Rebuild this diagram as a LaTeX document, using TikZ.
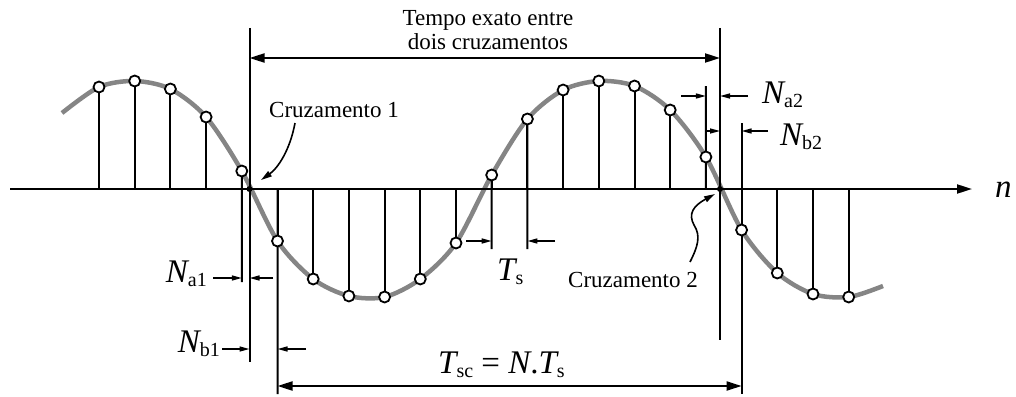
\documentclass[tikz,border=0pt]{standalone}
\usepackage{fontspec}
\setmainfont{Liberation Serif}
\usetikzlibrary{arrows.meta}
\definecolor{wavegray}{HTML}{858585}
\newcommand{\bigsym}[1]{{\fontsize{33}{33}\selectfont\itshape #1}}
\newcommand{\smallsub}[1]{\raisebox{-4pt}{\fontsize{20}{20}\selectfont #1}}

\begin{document}
\begin{tikzpicture}[
  x=1pt,y=-1pt,
  stem/.style={line width=2pt},
  sample/.style={circle,draw,fill=white,line width=1.8pt,inner sep=0pt,minimum size=11pt},
  crossdot/.style={circle,fill=black,inner sep=0pt,minimum size=6pt},
  wave/.style={draw=wavegray,line width=4.5pt},
  axis/.style={-{Triangle[length=15pt,width=9pt]},line width=2pt},
  dim/.style={{Triangle[length=15pt,width=9pt]}-{Triangle[length=15pt,width=9pt]},line width=2pt},
  shortarrow/.style={-{Triangle[length=10pt,width=5pt]},line width=1.5pt},
  pointer/.style={-{Triangle[length=11pt,width=6pt]},line width=1.6pt},
  txt/.style={font=\fontsize{23}{24}\selectfont,align=center,inner sep=0pt},
  sym/.style={inner sep=0pt}
]
\useasboundingbox (0,0) rectangle (1016,396);

% sample points
\foreach \k/\y in {0/87,1/81,2/89,3/117,4/171,5/241,6/279,7/296,8/297,9/279,10/243,
                   11/175,12/119,13/90,14/81,15/86,16/110,17/157,18/230,19/273,20/294,21/297}{
  \pgfmathsetmacro{\xx}{99+35.7*\k}
  \coordinate (b\k) at (\xx,189);
  \coordinate (p\k) at (\xx,\y);
}

% reference line ends
\coordinate (c1top) at (249.5,28);
\coordinate (c1bot) at (249.5,362);
\coordinate (c2top) at (720,28);
\coordinate (c2bot) at (720,340);
\coordinate (s4bot) at (241.8,282);
\coordinate (s5bot) at (277.5,394);
\coordinate (s11bot) at (491.7,249);
\coordinate (s12bot) at (527.4,249);
\coordinate (s17top) at (705.9,86);
\coordinate (s18top) at (741.6,123);
\coordinate (s18bot) at (741.6,394);

% signal
\draw[wave] plot[smooth] coordinates {(62,113) (99,87) (134.7,81) (170.4,89) (206.1,117)
  (241.8,171) (277.5,241) (313.2,279) (348.9,296) (384.6,297) (420.3,279) (456,243)
  (491.7,175) (527.4,119) (563.1,90) (598.8,81) (634.5,86) (670.2,110) (705.9,157)
  (741.6,230) (777.3,273) (813,294) (848.7,297) (883,286)};

% axis
\coordinate (axstart) at (10,189);
\coordinate (axend) at (972,189);
\draw[axis] (axstart) -- (axend);
\node[sym,anchor=base west] (nlabel) at (995,197) {\bigsym{n}};

% stems
\foreach \k in {0,...,21}{
  \draw[stem] (b\k) -- (p\k);
}
\draw[stem] (p4) -- (s4bot);
\draw[stem] (b5) -- (s5bot);
\draw[stem] (p11) -- (s11bot);
\draw[stem] (p12) -- (s12bot);
\draw[stem] (s17top) -- (b17);
\draw[stem] (s18top) -- (s18bot);
\draw[stem] (c1top) -- (c1bot);
\draw[stem] (c2top) -- (c2bot);

% samples
\foreach \k in {0,...,21}{
  \node[sample] (s\k) at (p\k) {};
}
\node[crossdot] (cr1) at (249.5,189) {};
\node[crossdot] (cr2) at (720,189) {};

% time between crossings
\node[txt] (tempo) at (488,30) {Tempo exato entre\\dois cruzamentos};
\draw[dim] (249.5,58) -- (720,58);

% crossing labels
\node[txt,anchor=base west] (cruz1) at (269,117) {Cruzamento 1};
\draw[pointer] (295,123) .. controls (290,150) and (278,168) .. (261,180);
\node[txt,anchor=base west] (cruz2) at (568,287) {Cruzamento 2};
\draw[pointer] (690,262) .. controls (698,246) and (701,236) .. (694,225)
  .. controls (688,214) and (693,206) .. (715,194);

% Na1, Nb1
\node[sym,anchor=base east] (na1) at (207,282) {\bigsym{N}\smallsub{a1}};
\draw[shortarrow] (213,278) -- (241.8,278);
\draw[shortarrow] (273,278) -- (249.5,278);
\node[sym,anchor=base east] (nb1) at (220,352) {\bigsym{N}\smallsub{b1}};
\draw[shortarrow] (222,349) -- (249.5,349);
\draw[shortarrow] (306,349) -- (277.5,349);

% Ts
\node[sym,anchor=base west] (ts) at (497,280) {\bigsym{T}\smallsub{s}};
\draw[shortarrow] (466,241) -- (491.7,241);
\draw[shortarrow] (555,241) -- (527.4,241);

% Na2, Nb2
\node[sym,anchor=base west] (na2) at (762,103) {\bigsym{N}\smallsub{a2}};
\draw[shortarrow] (681,96) -- (705.9,96);
\draw[shortarrow] (748,96) -- (720,96);
\node[sym,anchor=base west] (nb2) at (780,145) {\bigsym{N}\smallsub{b2}};
\draw[shortarrow] (705.9,131) -- (720,131);
\draw[shortarrow] (768,131) -- (741.6,131);

% Tsc
\node[sym,anchor=base west] (tsc) at (438,373) {\bigsym{T}\smallsub{sc}\fontsize{33}{33}\selectfont{} = \bigsym{N}.\bigsym{T}\smallsub{s}};
\draw[dim] (277.5,386) -- (741.6,386);
\end{tikzpicture}
\end{document}
